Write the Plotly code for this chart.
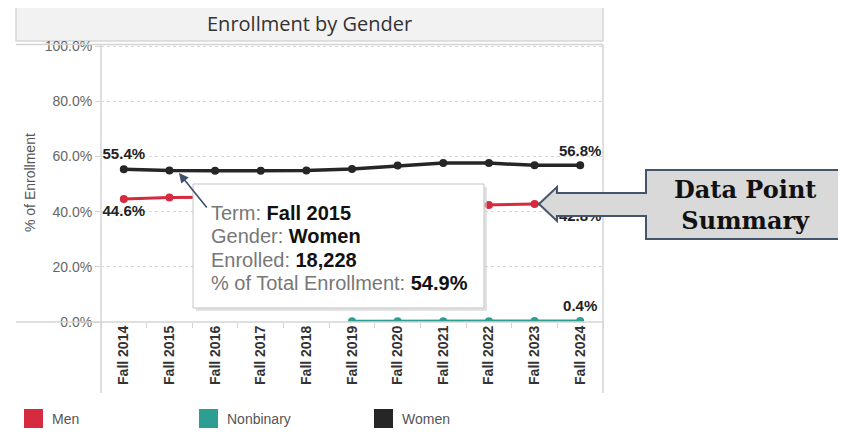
import plotly.graph_objects as go

# the page body keeps its default 8px margin, so the figure is drawn 8px in from the corner
OFF = 8
W, H = 846 - OFF, 439 - OFF

terms = ["Fall 2014", "Fall 2015", "Fall 2016", "Fall 2017", "Fall 2018", "Fall 2019",
         "Fall 2020", "Fall 2021", "Fall 2022", "Fall 2023", "Fall 2024"]
men = [44.6, 45.1, 45.2, 45.2, 45.1, 44.2, 43.0, 42.1, 42.4, 42.8, 42.8]
nonbinary = [None, None, None, None, None, 0.3, 0.3, 0.3, 0.3, 0.4, 0.4]
women = [55.4, 54.9, 54.8, 54.8, 54.9, 55.5, 56.7, 57.6, 57.6, 56.8, 56.8]
y_ticks = [0, 20, 40, 60, 80, 100]

series_names = ["Men", "Nonbinary", "Women"]
series_colors = ["#d62a3e", "#2d9f92", "#262626"]

tooltip_rows = [("Term: ", "Fall 2015"), ("Gender: ", "Women"),
                ("Enrolled: ", "18,228"), ("% of Total Enrollment: ", "54.9%")]

FONT = "Liberation Sans, Arial, sans-serif"


def px(x):
    return (x - OFF) / W


def py(y):
    return 1 - (y - OFF) / H


def end_labels(values, show_first=True):
    # label only the first / last point of each line, like the Tableau view
    out = ["" for _ in values]
    idx = [i for i, v in enumerate(values) if v is not None]
    if show_first:
        out[idx[0]] = f"{values[idx[0]]:.1f}%"
    out[idx[-1]] = f"{values[idx[-1]]:.1f}%"
    return out


def note(text, x, y, xanchor="center", yanchor="middle", **kw):
    return dict(text=text, x=px(x), y=py(y), xref="paper", yref="paper",
                xanchor=xanchor, yanchor=yanchor, showarrow=False, **kw)


fig = go.Figure()
label_pos = {"Men": "bottom center", "Nonbinary": "top center", "Women": "top center"}
for name, color, vals, first in zip(series_names, series_colors, [men, nonbinary, women],
                                    [True, False, True]):
    fig.add_trace(go.Scatter(
        x=terms, y=vals, name=name, mode="lines+markers+text",
        line=dict(color=color, width=3.5 if name == "Women" else 3),
        marker=dict(color=color, size=8),
        text=end_labels(vals, first), textposition=label_pos[name],
        textfont=dict(family=FONT, size=15, color="#222", weight="bold"),
        showlegend=False, hoverinfo="skip",
    ))

shapes = []
# title box
shapes.append(dict(type="rect", xref="paper", yref="paper", x0=px(16), x1=px(603), y0=py(5), y1=py(41),
                   fillcolor="#f2f2f2", line=dict(color="#d6d6d6", width=1.5), layer="below"))
# pane borders and axis line
line_style = dict(color="#d4d4d4", width=1.5)
shapes += [
    dict(type="line", xref="paper", yref="paper", x0=px(16), x1=px(603), y0=py(44.5), y1=py(44.5), line=line_style),
    dict(type="line", xref="paper", yref="paper", x0=px(101), x1=px(101), y0=py(44.5), y1=py(393), line=line_style),
    dict(type="line", xref="paper", yref="paper", x0=px(603), x1=px(603), y0=py(44.5), y1=py(393), line=line_style),
    dict(type="line", xref="paper", yref="paper", x0=px(16), x1=px(603), y0=py(322), y1=py(322), line=line_style),
]
# tooltip box with a soft shadow
shapes.append(dict(type="rect", xref="paper", yref="paper", x0=px(196), x1=px(487), y0=py(187), y1=py(311),
                   fillcolor="#cfcfcf", line=dict(width=0), opacity=0.6))
shapes.append(dict(type="rect", xref="paper", yref="paper", x0=px(193), x1=px(484), y0=py(184), y1=py(308),
                   fillcolor="white", line=dict(color="#c4c4c4", width=1)))
# callout box + arrow
callout = [(844, 170), (646, 170), (646, 193), (557, 193), (557, 187), (539, 204),
           (557, 221), (557, 216), (646, 216), (646, 239), (844, 239)]
path = "M " + " L ".join(f"{px(x):.5f},{py(y):.5f}" for x, y in callout) + " Z"
shapes.append(dict(type="path", xref="paper", yref="paper", path=path,
                   fillcolor="#d9d9d9", line=dict(color="#44546a", width=2)))
# legend swatches
for i, color in enumerate(series_colors):
    x0 = 24 + 175 * i
    shapes.append(dict(type="rect", xref="paper", yref="paper", x0=px(x0), x1=px(x0 + 19),
                       y0=py(409), y1=py(428), fillcolor=color, line=dict(width=0)))

annotations = [
    note("Enrollment by Gender", 309.5, 23, font=dict(family="Open Sans, sans-serif", size=20, color="#333")),
    note("% of Enrollment", 30, 183, textangle=-90, font=dict(family=FONT, size=14, color="#555")),
    dict(text="", x=px(179), y=py(173), xref="paper", yref="paper", ax=29, ay=36,
         showarrow=True, arrowhead=2, arrowsize=1.2, arrowwidth=1.6, arrowcolor="#3e4f6a"),
    note("<b>Data Point</b><br><b>Summary</b>", 745, 205,
         font=dict(family="DejaVu Serif, serif", size=24, color="#111")),
]
for i, (lab, val) in enumerate(tooltip_rows):
    annotations.append(note(f"<span style='color:#777777'>{lab}</span><b>{val}</b>", 209, 213 + 23.4 * i,
                            xanchor="left", font=dict(family=FONT, size=20, color="#111")))
for i, name in enumerate(series_names):
    annotations.append(note(name, 24 + 175 * i + 26, 419, xanchor="left",
                            font=dict(family=FONT, size=14, color="#555")))

fig.update_xaxes(
    domain=[px(101), px(603)], type="category", categoryarray=terms, range=[-0.5, 10.5],
    tickangle=-90, tickfont=dict(family=FONT, size=14, color="#333", weight="bold"),
    ticks="outside", tickson="boundaries", ticklen=5, tickcolor="#d4d4d4",
    showgrid=False, showline=False, zeroline=False, automargin=False,
)
fig.update_yaxes(
    domain=[py(322), py(44.5)], range=[0, 100.6], tickvals=y_ticks,
    ticktext=[f"{v:.1f}%" for v in y_ticks], tickfont=dict(family=FONT, size=14, color="#666"),
    ticks="outside", ticklen=5, tickcolor="#d4d4d4",
    showgrid=True, gridcolor="#d6d6d6", griddash="dot", gridwidth=1,
    showline=False, zeroline=False, automargin=False,
)

fig.update_layout(
    width=W, height=H, margin=dict(l=0, r=0, t=0, b=0),
    paper_bgcolor="white", plot_bgcolor="white",
    shapes=shapes, annotations=annotations, showlegend=False,
)

fig.write_html("out.html")
